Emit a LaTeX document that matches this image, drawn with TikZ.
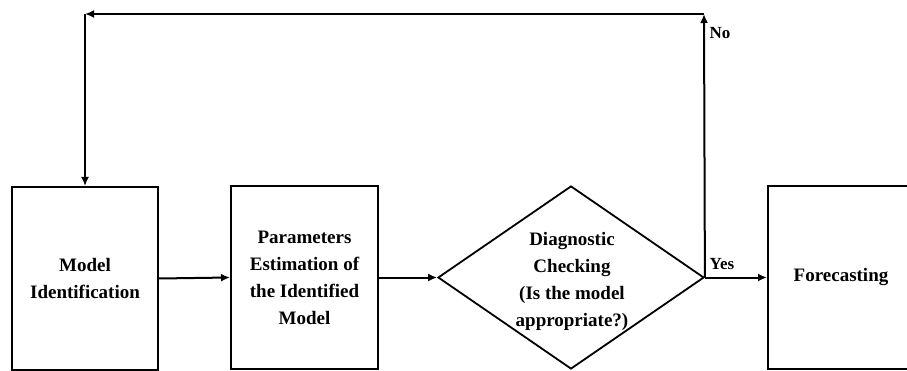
\documentclass[tikz,border=0pt]{standalone}
\usepackage{fontspec}
\setmainfont{Liberation Serif}
\usetikzlibrary{shapes.geometric,arrows.meta}
\begin{document}
\begin{tikzpicture}[x=1pt,y=-1pt,
  box/.style={draw,line width=2pt,rectangle,minimum width=146pt,minimum height=183pt,inner sep=0pt,align=center,
    font=\fontsize{19}{27}\selectfont\bfseries},
  lbl/.style={font=\fontsize{19}{27}\selectfont\bfseries,align=center,inner sep=0pt},
  conn/.style={line width=2pt,-{Latex[length=9pt,width=8pt]}}]
\useasboundingbox (0,0) rectangle (907,371);
\clip (0,0) rectangle (907,371);
\node[box] (mi) at (85,278.5) {Model\\Identification};
\node[box,minimum width=147pt] (pe) at (304.5,277.5) {Parameters\\Estimation of\\the Identified\\Model};
\node[draw,line width=1.8pt,diamond,minimum width=266pt,minimum height=183pt,inner sep=0pt] (dc) at (571,277.5) {};
\node[lbl] (dct) at (572,281) {Diagnostic\\Checking\\(Is the model\\appropriate?)};
\node[box] (fc) at (841,277.5) {Forecasting};
\coordinate (tr) at (704,14);
\coordinate (tl) at (85,14);
\draw[conn] (mi.east) -- (pe.west);
\draw[conn] (pe.east) -- (dc.west);
\draw[conn] (dc.east) -- (fc.west);
\draw[conn] (dc.east) -- (tr);
\draw[conn] (tr) -- (tl);
\draw[conn] (tl) -- (mi.north);
\node[lbl,font=\fontsize{17}{20}\selectfont\bfseries] (no) at (720,33) {No};
\node[lbl,font=\fontsize{17}{20}\selectfont\bfseries] (yes) at (722,264) {Yes};
\end{tikzpicture}
\end{document}
